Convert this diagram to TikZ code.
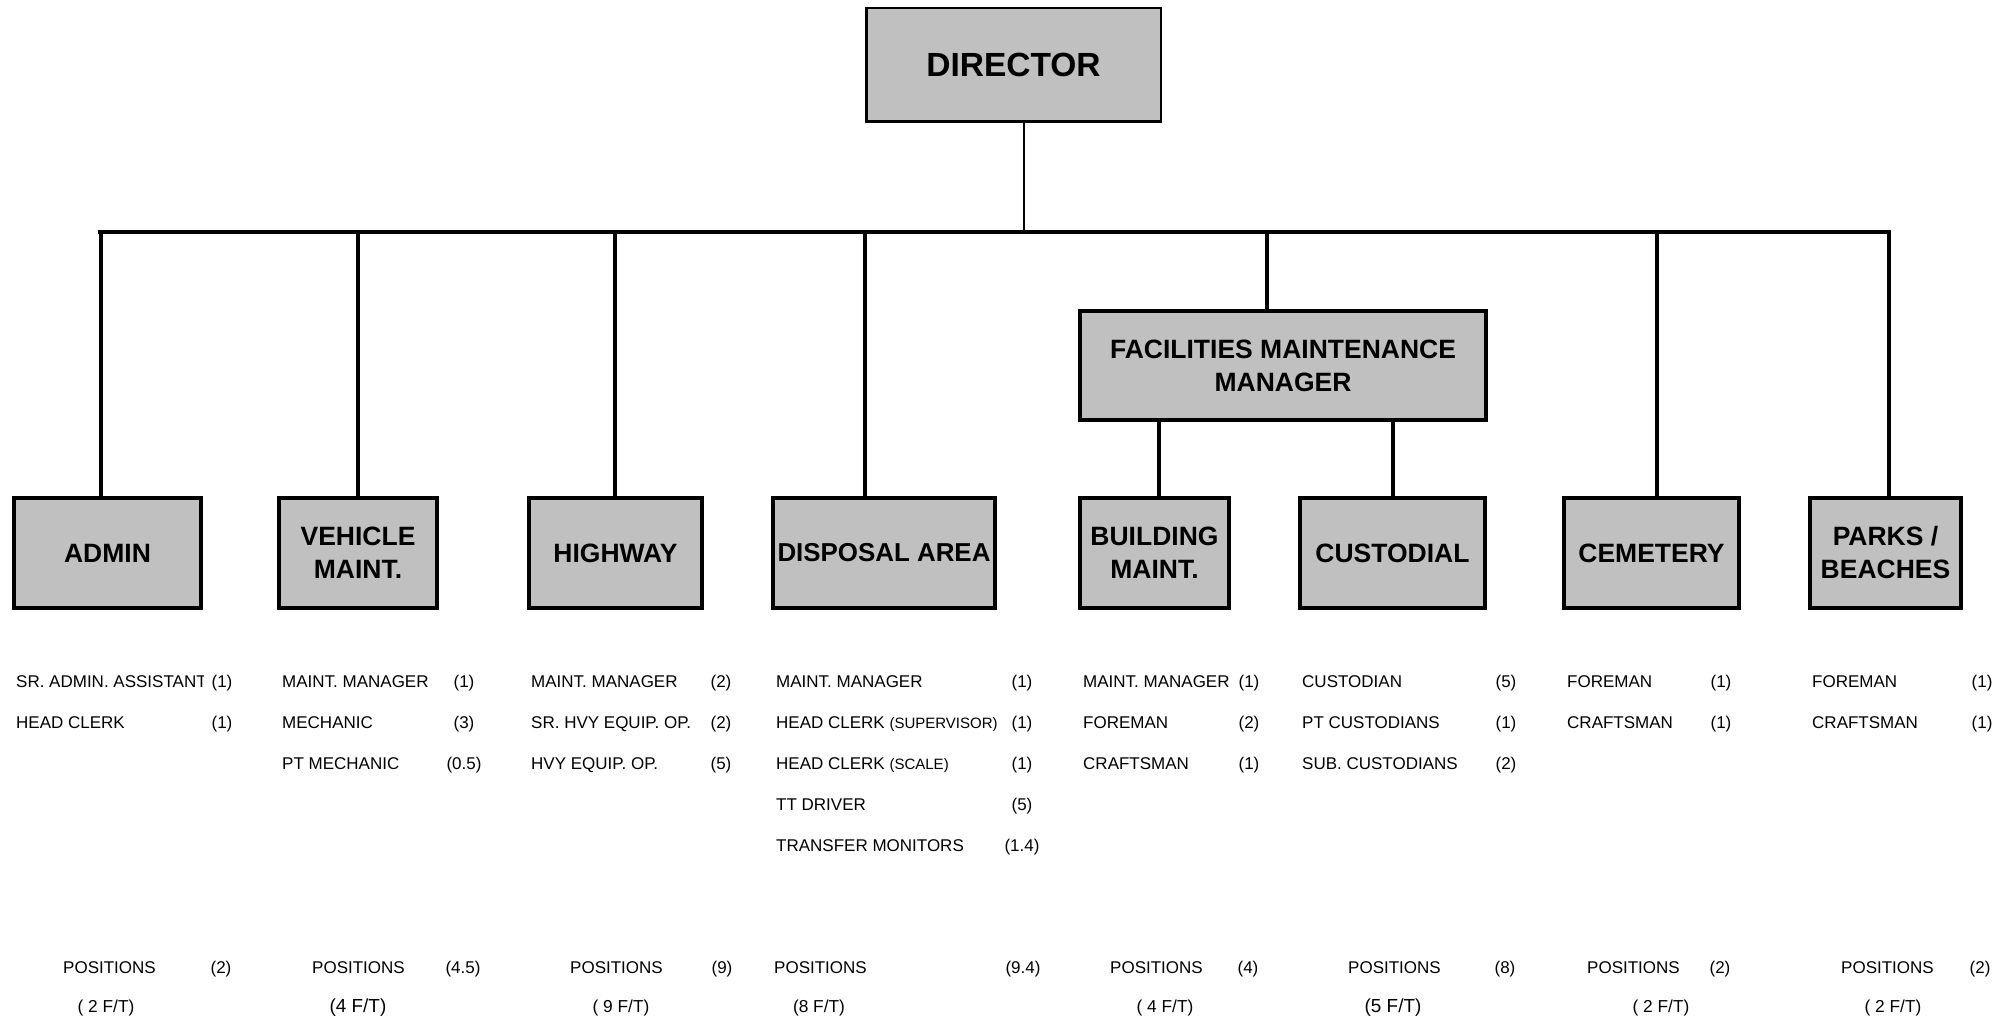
\documentclass[tikz,border=0pt]{standalone}
\usepackage{fontspec}
\setmainfont{Liberation Sans}
\definecolor{boxgray}{RGB}{192,192,192}
\begin{document}
\begin{tikzpicture}[x=1pt,y=-1pt,
  unit/.style={draw, line width=4pt, fill=boxgray, align=center, inner sep=0pt,
    minimum height=110pt, font=\fontsize{26.5}{33}\selectfont\bfseries},
  headbox/.style={draw, line width=2.5pt, fill=boxgray, align=center, inner sep=0pt,
    font=\fontsize{33.5}{38}\selectfont\bfseries},
  link/.style={line width=3.2pt},
  job/.style={anchor=base west, inner sep=0pt, font=\fontsize{17}{20}\selectfont},
  cnt/.style={anchor=base, inner sep=0pt, font=\fontsize{17}{20}\selectfont},
  ft/.style={anchor=base, inner sep=0pt, font=\fontsize{17.3}{20}\selectfont},
  ftb/.style={anchor=base, inner sep=0pt, font=\fontsize{18.9}{21}\selectfont}]
\useasboundingbox (0,0) rectangle (2007,1019);
\newcommand{\smalltxt}[1]{{\fontsize{15}{17}\selectfont #1}}

% boxes
\node[headbox, minimum width=294.5pt, minimum height=113.5pt] (dir) at (1013.5,65) {DIRECTOR};
\node[unit, minimum width=406pt, minimum height=109pt] (fm) at (1283,365.5) {FACILITIES MAINTENANCE\\MANAGER};
\node[unit, minimum width=187pt] (admin) at (107.5,553) {ADMIN};
\node[unit, minimum width=158pt] (veh) at (358,553) {VEHICLE\\MAINT.};
\node[unit, minimum width=173pt] (hwy) at (615.5,553) {HIGHWAY};
\node[unit, minimum width=222pt, font=\fontsize{25.9}{30}\selectfont\bfseries] (disp) at (884,553) {DISPOSAL AREA};
\node[unit, minimum width=149pt] (bldg) at (1154.5,553) {BUILDING\\MAINT.};
\node[unit, minimum width=185pt] (cust) at (1392.5,553) {CUSTODIAL};
\node[unit, minimum width=175pt] (cem) at (1651.5,553) {CEMETERY};
\node[unit, minimum width=151pt] (parks) at (1885.5,553) {PARKS /\\BEACHES};

% connectors
\coordinate (bL) at (100,232);
\coordinate (bR) at (1889,232);
\coordinate (dd) at (1024,232);
\coordinate (d1) at (101,232);
\coordinate (d2) at (358,232);
\coordinate (d3) at (615,232);
\coordinate (d4) at (865,232);
\coordinate (d5) at (1267,232);
\coordinate (d7) at (1657,232);
\coordinate (d8) at (1889,232);
\coordinate (f1) at (1159,420);
\coordinate (f2) at (1393,420);
\draw[line width=2.7pt] (dd |- dir.south) -- (dd);
\draw[link] ([xshift=-1.6pt]bL) -- ([xshift=1.6pt]bR);
\draw[link] (d1) -- (d1 |- admin.north);
\draw[link] (d2) -- (d2 |- veh.north);
\draw[link] (d3) -- (d3 |- hwy.north);
\draw[link] (d4) -- (d4 |- disp.north);
\draw[link] (d5) -- (d5 |- fm.north);
\draw[link] (d7) -- (d7 |- cem.north);
\draw[link] (d8) -- (d8 |- parks.north);
\draw[link] (f1 |- fm.south) -- (f1 |- bldg.north);
\draw[link] (f2 |- fm.south) -- (f2 |- cust.north);

% ADMIN
\begin{scope}
\clip (0,660) rectangle (203,700);
\node[job] (a1) at (16,687) {SR. ADMIN. ASSISTANT};
\end{scope}
\node[job] (a2) at (16,728) {HEAD CLERK};
\node[cnt] (ac1) at (222,687) {(1)};
\node[cnt] (ac2) at (222,728) {(1)};
% VEHICLE
\node[job] (v1) at (282,687) {MAINT. MANAGER};
\node[job] (v2) at (282,728) {MECHANIC};
\node[job] (v3) at (282,769) {PT MECHANIC};
\node[cnt] (vc1) at (464,687) {(1)};
\node[cnt] (vc2) at (464,728) {(3)};
\node[cnt] (vc3) at (464,769) {(0.5)};
% HIGHWAY
\node[job] (h1) at (531,687) {MAINT. MANAGER};
\node[job] (h2) at (531,728) {SR. HVY EQUIP. OP.};
\node[job] (h3) at (531,769) {HVY EQUIP. OP.};
\node[cnt] (hc1) at (721,687) {(2)};
\node[cnt] (hc2) at (721,728) {(2)};
\node[cnt] (hc3) at (721,769) {(5)};
% DISPOSAL
\node[job] (p1) at (776,687) {MAINT. MANAGER};
\node[job] (p2) at (776,728) {HEAD CLERK \smalltxt{(SUPERVISOR)}};
\node[job] (p3) at (776,769) {HEAD CLERK \smalltxt{(SCALE)}};
\node[job] (p4) at (776,810) {TT DRIVER};
\node[job] (p5) at (776,851) {TRANSFER MONITORS};
\node[cnt] (pc1) at (1022,687) {(1)};
\node[cnt] (pc2) at (1022,728) {(1)};
\node[cnt] (pc3) at (1022,769) {(1)};
\node[cnt] (pc4) at (1022,810) {(5)};
\node[cnt] (pc5) at (1022,851) {(1.4)};
% BUILDING
\node[job] (b1) at (1083,687) {MAINT. MANAGER};
\node[job] (b2) at (1083,728) {FOREMAN};
\node[job] (b3) at (1083,769) {CRAFTSMAN};
\node[cnt] (bc1) at (1249,687) {(1)};
\node[cnt] (bc2) at (1249,728) {(2)};
\node[cnt] (bc3) at (1249,769) {(1)};
% CUSTODIAL
\node[job] (c1) at (1302,687) {CUSTODIAN};
\node[job] (c2) at (1302,728) {PT CUSTODIANS};
\node[job] (c3) at (1302,769) {SUB. CUSTODIANS};
\node[cnt] (cc1) at (1506,687) {(5)};
\node[cnt] (cc2) at (1506,728) {(1)};
\node[cnt] (cc3) at (1506,769) {(2)};
% CEMETERY
\node[job] (m1) at (1567,687) {FOREMAN};
\node[job] (m2) at (1567,728) {CRAFTSMAN};
\node[cnt] (mc1) at (1721,687) {(1)};
\node[cnt] (mc2) at (1721,728) {(1)};
% PARKS
\node[job] (k1) at (1812,687) {FOREMAN};
\node[job] (k2) at (1812,728) {CRAFTSMAN};
\node[cnt] (kc1) at (1982,687) {(1)};
\node[cnt] (kc2) at (1982,728) {(1)};

% POSITIONS rows
\node[job] (pos1) at (63,973) {POSITIONS};
\node[job] (pos2) at (312,973) {POSITIONS};
\node[job] (pos3) at (570,973) {POSITIONS};
\node[job] (pos4) at (774,973) {POSITIONS};
\node[job] (pos5) at (1110,973) {POSITIONS};
\node[job] (pos6) at (1348,973) {POSITIONS};
\node[job] (pos7) at (1587,973) {POSITIONS};
\node[job] (pos8) at (1841,973) {POSITIONS};
\node[cnt] (pn1) at (221,973) {(2)};
\node[cnt] (pn2) at (463,973) {(4.5)};
\node[cnt] (pn3) at (722,973) {(9)};
\node[cnt] (pn4) at (1023,973) {(9.4)};
\node[cnt] (pn5) at (1248,973) {(4)};
\node[cnt] (pn6) at (1505,973) {(8)};
\node[cnt] (pn7) at (1720,973) {(2)};
\node[cnt] (pn8) at (1980,973) {(2)};
\node[ft] (ft1) at (106,1012) {( 2 F/T)};
\node[ftb] (ft2) at (358,1012) {(4 F/T)};
\node[ft] (ft3) at (621,1012) {( 9 F/T)};
\node[ft] (ft4) at (819,1012) {(8 F/T)};
\node[ft] (ft5) at (1165,1012) {( 4 F/T)};
\node[ftb] (ft6) at (1393,1012) {(5 F/T)};
\node[ft] (ft7) at (1661,1012) {( 2 F/T)};
\node[ft] (ft8) at (1893,1012) {( 2 F/T)};
\end{tikzpicture}
\end{document}
